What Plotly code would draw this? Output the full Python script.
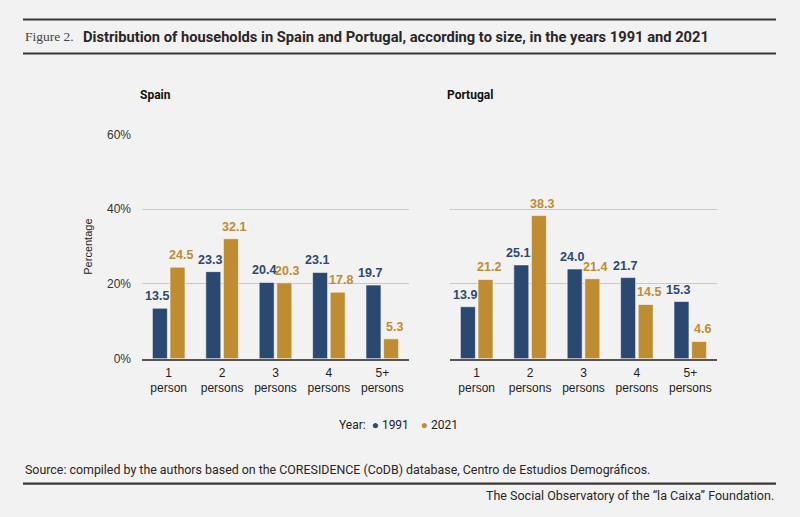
import plotly.graph_objects as go
from plotly.subplots import make_subplots

# Household size categories and shares (%)
categories = ["1<br>person", "2<br>persons", "3<br>persons", "4<br>persons", "5+<br>persons"]
spain_1991 = [13.5, 23.3, 20.4, 23.1, 19.7]
spain_2021 = [24.5, 32.1, 20.3, 17.8, 5.3]
portugal_1991 = [13.9, 25.1, 24.0, 21.7, 15.3]
portugal_2021 = [21.2, 38.3, 21.4, 14.5, 4.6]
years = ["1991", "2021"]
y_ticks = [0, 20, 40, 60]
y_tick_labels = ["0%", "20%", "40%", "60%"]

BLUE = "#2b4870"
GOLD = "#bf8c32"
BG = "#f2f2f2"
LINE = "#3b3636"
W, H = 800, 517
# the photographed page comes out slightly squeezed vertically; compensate
Y_OFF, Y_SCALE = 6.5, 0.9725
BARGAP = 0.34
X_DOMAINS = [(142, 409), (450, 717)]


def px_x(p):
    return p / W


def px_y(p):
    return 1 - ((p - Y_OFF) / Y_SCALE) / H


fig = make_subplots(rows=1, cols=2)

panels = [(spain_1991, spain_2021), (portugal_1991, portugal_2021)]
for col, (v91, v21) in enumerate(panels, start=1):
    # distance (px) from category centre to the centre of each bar, plus a small
    # outward nudge so neighbouring labels do not touch
    slot = (X_DOMAINS[col - 1][1] - X_DOMAINS[col - 1][0]) / len(categories)
    half = slot * (1 - BARGAP) / 4 + 3
    xref = "x" if col == 1 else "x2"
    yref = "y" if col == 1 else "y2"
    for vals, color, name, sign in [(v91, BLUE, years[0], -1), (v21, GOLD, years[1], 1)]:
        fig.add_trace(go.Bar(
            x=categories, y=vals, name=name,
            marker=dict(color=color, line=dict(color="rgba(255,255,255,0.55)", width=1)),
            showlegend=False, hoverinfo="skip",
        ), row=1, col=col)
        for cat, v in zip(categories, vals):
            fig.add_annotation(
                x=cat, y=v, xref=xref, yref=yref, text=f"<b>{v:.1f}</b>",
                showarrow=False, yanchor="bottom", xanchor="center",
                xshift=sign * half, yshift=3,
                font=dict(family="Liberation Sans", size=12.5, color=color),
            )

y_dom = [px_y(358), px_y(134)]
fig.update_layout(
    width=W, height=H, autosize=False,
    margin=dict(l=0, r=0, t=0, b=0),
    paper_bgcolor=BG, plot_bgcolor=BG,
    barmode="group", bargap=BARGAP, bargroupgap=0.15,
    font=dict(family="Liberation Sans", size=12, color="#222222"),
    xaxis=dict(domain=[px_x(X_DOMAINS[0][0]), px_x(X_DOMAINS[0][1])]),
    xaxis2=dict(domain=[px_x(X_DOMAINS[1][0]), px_x(X_DOMAINS[1][1])]),
    yaxis=dict(domain=y_dom),
    yaxis2=dict(domain=y_dom),
    showlegend=False,
)

fig.update_xaxes(showline=True, linecolor="#555555", linewidth=1.5, ticks="",
                 tickfont=dict(size=12, color="#222222"), showgrid=False,
                 ticklabelstandoff=2)
fig.update_yaxes(range=[0, 60], tickvals=y_ticks, ticktext=y_tick_labels,
                 showgrid=True, gridcolor="#c9c9c9", gridwidth=1, zeroline=False,
                 tickfont=dict(size=12, color="#333333"), ticklabelstandoff=10)
fig.update_yaxes(title=dict(text="Percentage", font=dict(size=11), standoff=12), row=1, col=1)
fig.update_yaxes(showticklabels=False, row=1, col=2)

# rules above and below the title and above the footer
for py in [19, 53, 483]:
    fig.add_shape(type="line", xref="paper", yref="paper",
                  x0=px_x(23), x1=px_x(776), y0=px_y(py), y1=px_y(py),
                  line=dict(color=LINE, width=2.2))

legend_text = (f"Year:  <span style='color:{BLUE}'>●</span> {years[0]}"
               f"    <span style='color:{GOLD}'>●</span> {years[1]}")

annotations = [
    dict(text="Figure 2.", x=px_x(23), y=px_y(36), xanchor="left",
         font=dict(family="Liberation Serif", size=13.5, color="#444444")),
    dict(text="<b>Distribution of households in Spain and Portugal, according to size, in the years 1991 and 2021</b>",
         x=px_x(81), y=px_y(36), xanchor="left",
         font=dict(family="Roboto", size=14.7, color="#2a2626")),
    dict(text="<b>Spain</b>", x=px_x(138), y=px_y(94), xanchor="left",
         font=dict(family="Roboto", size=12, color="#111111")),
    dict(text="<b>Portugal</b>", x=px_x(445), y=px_y(94), xanchor="left",
         font=dict(family="Roboto", size=12, color="#111111")),
    dict(text=legend_text, x=px_x(337), y=px_y(424), xanchor="left",
         font=dict(family="Roboto", size=12, color="#222222")),
    dict(text="Source: compiled by the authors based on the CORESIDENCE (CoDB) database, Centro de Estudios Demográficos.",
         x=px_x(23), y=px_y(469), xanchor="left",
         font=dict(family="Roboto", size=12.4, color="#2a2626")),
    dict(text="The Social Observatory of the “la Caixa” Foundation.",
         x=px_x(776), y=px_y(495), xanchor="right",
         font=dict(family="Roboto", size=12.5, color="#2a2626")),
]
for a in annotations:
    fig.add_annotation(xref="paper", yref="paper", yanchor="middle", showarrow=False, **a)

fig.write_html("out.html", config={"displayModeBar": False},
               post_script="document.documentElement.style.overflow='hidden';"
                           f"document.documentElement.style.background='{BG}';"
                           f"document.body.style.background='{BG}';"
                           "document.body.style.margin='0';document.body.style.overflow='hidden';")
